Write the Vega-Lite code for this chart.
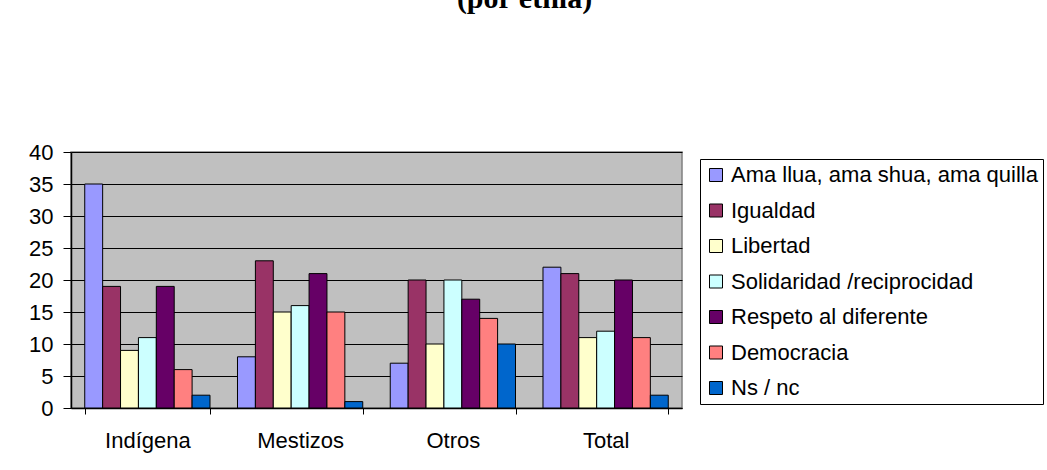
{
  "$schema": "https://vega.github.io/schema/vega-lite/v6.json",
  "width": 611,
  "height": 256,
  "autosize": {"type": "none"},
  "padding": {"left": 71, "top": 152, "right": 365, "bottom": 62},
  "background": "white",
  "title": {
    "text": "(por etnia)",
    "font": "Liberation Serif",
    "fontWeight": "bold",
    "fontSize": 30,
    "color": "black",
    "anchor": "middle",
    "frame": "group",
    "baseline": "alphabetic",
    "offset": 103,
    "dx": 148
  },
  "config": {
    "view": {"fill": "#C0C0C0", "stroke": "#808080", "strokeWidth": 1.5},
    "font": "Liberation Sans"
  },
  "data": {
    "values": [
      {"grupo": "Indígena", "serie": "Ama llua, ama shua, ama quilla", "valor": 35},
      {"grupo": "Indígena", "serie": "Igualdad", "valor": 19},
      {"grupo": "Indígena", "serie": "Libertad", "valor": 9},
      {"grupo": "Indígena", "serie": "Solidaridad /reciprocidad", "valor": 11},
      {"grupo": "Indígena", "serie": "Respeto al diferente", "valor": 19},
      {"grupo": "Indígena", "serie": "Democracia", "valor": 6},
      {"grupo": "Indígena", "serie": "Ns / nc", "valor": 2},
      {"grupo": "Mestizos", "serie": "Ama llua, ama shua, ama quilla", "valor": 8},
      {"grupo": "Mestizos", "serie": "Igualdad", "valor": 23},
      {"grupo": "Mestizos", "serie": "Libertad", "valor": 15},
      {"grupo": "Mestizos", "serie": "Solidaridad /reciprocidad", "valor": 16},
      {"grupo": "Mestizos", "serie": "Respeto al diferente", "valor": 21},
      {"grupo": "Mestizos", "serie": "Democracia", "valor": 15},
      {"grupo": "Mestizos", "serie": "Ns / nc", "valor": 1},
      {"grupo": "Otros", "serie": "Ama llua, ama shua, ama quilla", "valor": 7},
      {"grupo": "Otros", "serie": "Igualdad", "valor": 20},
      {"grupo": "Otros", "serie": "Libertad", "valor": 10},
      {"grupo": "Otros", "serie": "Solidaridad /reciprocidad", "valor": 20},
      {"grupo": "Otros", "serie": "Respeto al diferente", "valor": 17},
      {"grupo": "Otros", "serie": "Democracia", "valor": 14},
      {"grupo": "Otros", "serie": "Ns / nc", "valor": 10},
      {"grupo": "Total", "serie": "Ama llua, ama shua, ama quilla", "valor": 22},
      {"grupo": "Total", "serie": "Igualdad", "valor": 21},
      {"grupo": "Total", "serie": "Libertad", "valor": 11},
      {"grupo": "Total", "serie": "Solidaridad /reciprocidad", "valor": 12},
      {"grupo": "Total", "serie": "Respeto al diferente", "valor": 20},
      {"grupo": "Total", "serie": "Democracia", "valor": 11},
      {"grupo": "Total", "serie": "Ns / nc", "valor": 2}
    ]
  },
  "mark": {"type": "bar", "stroke": "black", "strokeWidth": 1},
  "encoding": {
    "x": {
      "field": "grupo",
      "type": "nominal",
      "sort": null,
      "scale": {"paddingInner": 0.18, "paddingOuter": 0.09},
      "axis": {
        "title": null,
        "labelAngle": 0,
        "labelFontSize": 22,
        "labelColor": "black",
        "labelPadding": 16,
        "tickBand": "extent",
        "tickSize": 6,
        "tickColor": "black",
        "domainColor": "black",
        "domainWidth": 1.5
      }
    },
    "xOffset": {
      "field": "serie",
      "type": "nominal",
      "sort": null,
      "scale": {"paddingInner": 0, "paddingOuter": 0}
    },
    "y": {
      "field": "valor",
      "type": "quantitative",
      "scale": {"domain": [0, 40], "nice": false},
      "axis": {
        "title": null,
        "values": [0, 5, 10, 15, 20, 25, 30, 35, 40],
        "labelFontSize": 22,
        "labelColor": "black",
        "labelPadding": 10,
        "tickSize": 8,
        "tickColor": "black",
        "domainColor": "black",
        "domainWidth": 1.5,
        "grid": true,
        "gridColor": "black",
        "gridWidth": 1
      }
    },
    "color": {
      "field": "serie",
      "type": "nominal",
      "sort": null,
      "scale": {
        "domain": ["Ama llua, ama shua, ama quilla", "Igualdad", "Libertad", "Solidaridad /reciprocidad", "Respeto al diferente", "Democracia", "Ns / nc"],
        "range": ["#9999FF", "#993366", "#FFFFCC", "#CCFFFF", "#660066", "#FF8080", "#0066CC"]
      },
      "legend": {
        "title": null,
        "orient": "none",
        "legendX": 629,
        "legendY": 7,
        "fillColor": "white",
        "strokeColor": "black",
        "padding": 5,
        "symbolType": "square",
        "symbolSize": 169,
        "symbolStrokeColor": "black",
        "symbolStrokeWidth": 1,
        "labelFontSize": 22,
        "labelColor": "black",
        "labelOffset": 4,
        "labelLimit": 400,
        "rowPadding": 13.5
      }
    }
  }
}
